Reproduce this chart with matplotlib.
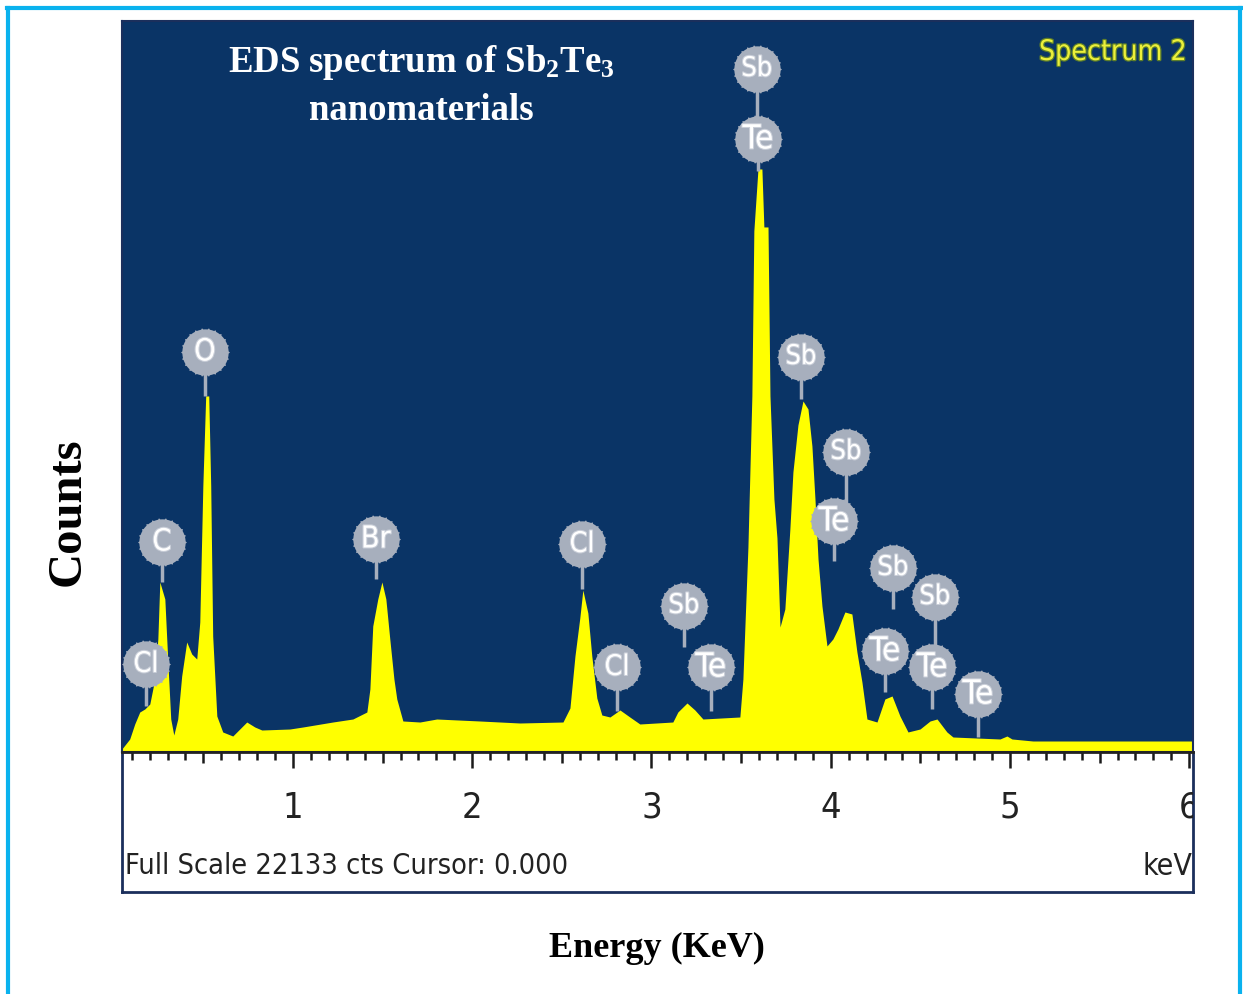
import numpy as np
import matplotlib
matplotlib.use("Agg")
import matplotlib.pyplot as plt
from matplotlib.path import Path
from matplotlib.lines import Line2D
import matplotlib.patheffects as pe
import matplotlib.transforms as mtransforms
from matplotlib import font_manager as fm
import os

# ---------------- data ----------------
energy_kev = [0.045, 0.067, 0.089, 0.117, 0.145, 0.173, 0.201, 0.229, 0.246, 0.257,
              0.285, 0.301, 0.318, 0.335, 0.357, 0.379, 0.407, 0.435, 0.463, 0.480,
              0.497, 0.513, 0.530, 0.541, 0.552, 0.575, 0.608, 0.664, 0.703, 0.742,
              0.787, 0.826, 0.982, 1.055, 1.222, 1.334, 1.412, 1.429, 1.445, 1.473,
              1.496, 1.518, 1.540, 1.563, 1.579, 1.613, 1.708, 1.802, 2.042, 2.266,
              2.506, 2.545, 2.573, 2.600, 2.617, 2.645, 2.667, 2.695, 2.723, 2.768,
              2.824, 2.879, 2.935, 3.119, 3.147, 3.198, 3.242, 3.287, 3.493, 3.510,
              3.538, 3.560, 3.571, 3.594, 3.616, 3.627, 3.650, 3.661, 3.683, 3.700,
              3.717, 3.744, 3.772, 3.789, 3.817, 3.845, 3.873, 3.895, 3.912, 3.929,
              3.951, 3.979, 4.012, 4.040, 4.079, 4.118, 4.146, 4.174, 4.202, 4.258,
              4.302, 4.342, 4.386, 4.431, 4.498, 4.554, 4.593, 4.648, 4.682, 4.944,
              4.983, 5.011, 5.128, 6.021]
counts = [91, 242, 394, 848, 1211, 1302, 1453, 2210, 3422, 5148,
          4633, 2816, 999, 515, 999, 2301, 3331, 2967, 2816, 3936,
          8054, 10780, 10780, 8054, 3512, 1090, 606, 484, 696, 908,
          757, 666, 696, 757, 908, 999, 1211, 1908, 3815, 4633,
          5148, 4633, 3422, 2210, 1605, 939, 908, 999, 939, 878,
          908, 1332, 2907, 4058, 4905, 4209, 2907, 1635, 1120, 1060,
          1272, 1060, 848, 908, 1211, 1484, 1272, 999, 1060, 2210,
          6207, 10780, 15776, 17653, 17653, 15897, 15897, 10780, 7661, 6480,
          3785, 4330, 6752, 8478, 9902, 10628, 10386, 9266, 7661, 5844,
          4421, 3210, 3422, 3724, 4239, 4179, 3028, 2120, 999, 908,
          1605, 1696, 1090, 606, 696, 939, 999, 606, 454, 394,
          484, 394, 333, 333]

full_scale = 22133

label_text = ["Cl", "C", "O", "Br", "Cl", "Cl", "Sb", "Te", "Sb", "Te",
              "Sb", "Sb", "Te", "Sb", "Te", "Sb", "Te", "Te"]
label_e = [0.179, 0.268, 0.508, 1.462, 2.612, 2.807, 3.181, 3.331, 3.588, 3.594,
           3.834, 4.085, 4.018, 4.347, 4.302, 4.581, 4.565, 4.821]
label_c = [2665, 6359, 12112, 6450, 6298, 2574, 4421, 2574, 20681, 18562,
           11961, 9084, 6995, 5572, 3058, 4693, 2574, 1756]
stem_end_c = [1393, 5148, 10780, 5238, 4936, 1241, 3179, 1241, 18562, 17593,
              10689, 6995, 5783, 4330, 1817, 2574, 1302, 454]

tick_majors = [1, 2, 3, 4, 5, 6]

# ---------------- fonts: pick a narrow/condensed sans if installed ----------------
def pick_narrow():
    prefs = ["liberationsansnarrow-regular", "liberationsans-narrow",
             "dejavusanscondensed.ttf", "opensans_condensed-regular",
             "opensans-condensedregular", "notosans-condensed.ttf",
             "notosans-condensedregular", "roboto_condensed-regular",
             "robotocondensed-regular"]
    files = [f.fname for f in fm.fontManager.ttflist]
    low = [os.path.basename(f).lower() for f in files]
    for p in prefs:
        for f, l in zip(files, low):
            if l.startswith(p) or l == p:
                return f
    for f, l in zip(files, low):
        if ("condensed" in l or "narrow" in l) and not any(
                k in l for k in ["bold", "italic", "light", "thin", "black",
                                 "semi", "extra", "medium", "oblique"]):
            return f
    return None


nfile = pick_narrow()
if nfile:
    NARROW = dict(fontproperties=fm.FontProperties(fname=nfile))
else:
    NARROW = dict(family=["Liberation Sans", "DejaVu Sans"])

# ---------------- figure ----------------
W, H = 1243, 995
fig = plt.figure(figsize=(W / 100, H / 100), dpi=100)
fig.patch.set_facecolor("white")

serif = ["Liberation Serif", "DejaVu Serif"]
plt.rcParams["mathtext.fontset"] = "custom"
plt.rcParams["mathtext.rm"] = "Liberation Serif:bold"
plt.rcParams["mathtext.it"] = "Liberation Serif:bold"
plt.rcParams["mathtext.bf"] = "Liberation Serif:bold"


def fx(px):
    return px / W


def fy(py):
    return 1 - py / H


def ntext(target, *args, size=20, width_px=None, **kw):
    t = target.text(*args, **kw, **NARROW)
    t.set_fontsize(size)
    if width_px is not None:
        r = fig.canvas.get_renderer()
        w = t.get_window_extent(renderer=r).width
        if w > 0:
            t.set_fontsize(size * width_px / w)
    return t


xmin, xmax = 0.046, 6.021
navy = "#0A3466"
border = "#1B2F5C"

ax = fig.add_axes([fx(122), fy(753), fx(1193) - fx(122), fy(22) - fy(753)])
ax.set_facecolor(navy)
ax.set_xlim(xmin, xmax)
ax.set_ylim(0, full_scale)
ax.set_xticks([])
ax.set_yticks([])
for s in ax.spines.values():
    s.set_color(border)
    s.set_linewidth(1.5)

ax.fill_between(energy_kev, 0, counts, color="#FFFF00", lw=0, zorder=2)

# element labels (gear-like grey discs)
theta = np.linspace(0, 2 * np.pi, 721)
r = 1 + 0.05 * np.clip(np.cos(22 * theta), 0, None) ** 4
gear = Path(np.column_stack([r * np.cos(theta), r * np.sin(theta)]), closed=True)
grey = "#A7AFBD"
ax.vlines(label_e, stem_end_c, label_c, color=grey, lw=2.5, zorder=4)
ax.scatter(label_e, label_c, s=35 ** 2, marker=gear, color=grey, lw=0, zorder=5)
for t, e, c in zip(label_text, label_e, label_c):
    wpx = {"Sb": 31, "Te": 31, "Br": 30, "Cl": 25}.get(t)
    ntext(ax, e, c, t, size=22, width_px=wpx,
          color="white", ha="center", va="center", zorder=6,
          path_effects=[pe.withStroke(linewidth=1.5, foreground="#C9CED8")])

# title inside plot
ax.text(fx(421), fy(62), "EDS spectrum of Sb$_2$Te$_3$", transform=fig.transFigure,
        color="white", fontsize=26.5, family=serif, weight="bold", ha="center", va="center",
        zorder=7)
ax.text(fx(421), fy(110), "nanomaterials", transform=fig.transFigure,
        color="white", fontsize=26.5, family=serif, weight="bold", ha="center", va="center",
        zorder=7)
ntext(ax, fx(1186), fy(53), "Spectrum 2", size=26, width_px=148,
      transform=fig.transFigure, color="#ECF03A", ha="right", va="center", zorder=7,
      path_effects=[pe.withStroke(linewidth=1.8, foreground="#5E7F2A")])

# lower scale panel
axl = fig.add_axes([fx(122), fy(893), fx(1193) - fx(122), fy(753) - fy(893)])
axl.set_facecolor("white")
axl.set_xlim(xmin, xmax)
axl.set_ylim(0, 1)
axl.set_xticks([])
axl.set_yticks([])
for s in axl.spines.values():
    s.set_color(border)
    s.set_linewidth(2)
axl.spines["top"].set_color("#222222")

tr = mtransforms.blended_transform_factory(axl.transData, axl.transAxes)
minor_pos = np.round(np.arange(0.1, 6.001, 0.1), 2)
for p in minor_pos:
    if abs(p - round(p)) < 1e-6:
        L = 0.115
    elif abs(p * 2 - round(p * 2)) < 1e-6:
        L = 0.08
    else:
        L = 0.055
    axl.plot([p, p], [1, 1 - L], transform=tr, color="#1A1A1A", lw=1.8,
             solid_capstyle="butt", clip_on=True)
for m in tick_majors:
    ntext(axl, m, 0.61, str(m), size=26, transform=tr,
          color="#222222", ha="center", va="center", clip_on=True)
ntext(axl, 0.003, 0.19, "Full Scale 22133 cts Cursor: 0.000", size=24, width_px=444,
      transform=axl.transAxes, color="#222222", ha="left", va="center")
ntext(axl, 0.999, 0.19, "keV", size=24, width_px=50, transform=axl.transAxes,
      color="#222222", ha="right", va="center")

# axis titles
fig.text(fx(68), fy(512), "Counts", rotation=90, fontsize=35, family=serif,
         weight="bold", ha="center", va="center", color="black")
fig.text(fx(657), fy(948), "Energy (KeV)", fontsize=26, family=serif,
         weight="bold", ha="center", va="center", color="black")

# cyan frame
cyan = "#0AB2EE"
fig.add_artist(Line2D([fx(8), fx(8)], [0, fy(9)], transform=fig.transFigure, color=cyan, lw=3))
fig.add_artist(Line2D([fx(6.5), fx(1241.5)], [fy(9), fy(9)], transform=fig.transFigure, color=cyan, lw=3))
fig.add_artist(Line2D([fx(1240), fx(1240)], [0, fy(9)], transform=fig.transFigure, color=cyan, lw=3))

fig.savefig("out.png", dpi=100, facecolor="white")
